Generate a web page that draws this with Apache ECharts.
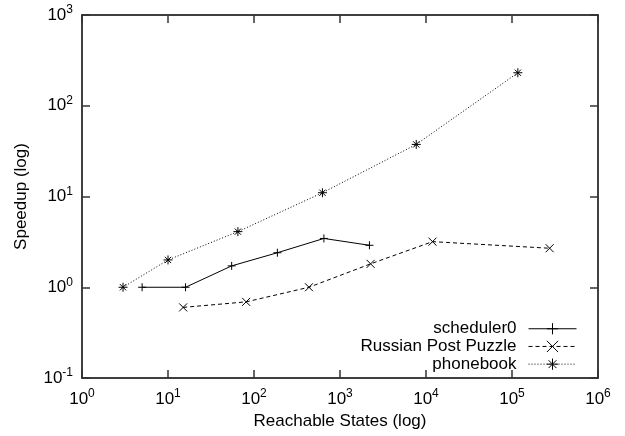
<!DOCTYPE html>
<html>
<head>
<meta charset="utf-8">
<script src="https://cdn.jsdelivr.net/npm/echarts@6/dist/echarts.min.js"></script>
<style>
  html, body { margin: 0; padding: 0; background: #fff; }
  #chart { width: 625px; height: 436px; }
</style>
</head>
<body>
<div id="chart"></div>
<script>
// reachable states (x) and speedup (y)
var schedX = [5, 16, 55, 187, 650, 2200];
var schedY = [1.0, 1.0, 1.72, 2.4, 3.45, 2.9];
var russianX = [15, 81, 436, 2270, 11900, 274000];
var russianY = [0.6, 0.69, 1.0, 1.81, 3.18, 2.69];
var phoneX = [3, 10, 65, 625, 7700, 117000];
var phoneY = [1.0, 2.0, 4.1, 11, 37.5, 231];

var seriesNames = ['scheduler0', 'Russian Post Puzzle', 'phonebook'];

function pairs(xs, ys) {
    return xs.map(function(x, i) { return [x, ys[i]]; });
}

function powLabel(v) {
    var e = Math.round(Math.log(v) / Math.LN10);
    return '{b|10}{e|' + e + '}';
}

var labelRich = {
    b: { fontSize: 17, fontFamily: 'Liberation Sans', color: '#000', lineHeight: 22 },
    e: { fontSize: 12, fontFamily: 'Liberation Sans', color: '#000', verticalAlign: 'top', lineHeight: 12 }
};

var frameLine = { show: true, lineStyle: { color: '#000', width: 1.5 } };
var innerTick = { show: true, inside: true, length: 8, lineStyle: { color: '#333', width: 1.5 } };

var chart = echarts.init(document.getElementById('chart'));

var option = {
    animation: false,
    backgroundColor: '#fff',
    textStyle: { fontFamily: 'Liberation Sans', color: '#000' },
    grid: { left: 82, right: 27, top: 15, bottom: 58 },
    legend: {
        orient: 'vertical',
        right: 43,
        bottom: 58,
        align: 'right',
        itemWidth: 48,
        itemHeight: 14,
        itemGap: 0,
        data: seriesNames,
        lineStyle: { width: 1 },
        itemStyle: { borderWidth: 1 },
        textStyle: { fontSize: 17, color: '#000', lineHeight: 17.7, padding: [0, 7, 0, 0] }
    },
    xAxis: [{
        type: 'log',
        logBase: 10,
        min: 1,
        max: 1000000,
        name: 'Reachable States (log)',
        nameLocation: 'middle',
        nameGap: 35,
        nameTextStyle: { fontSize: 17, color: '#000' },
        axisLine: frameLine,
        axisTick: innerTick,
        minorTick: { show: false },
        splitLine: { show: false },
        axisLabel: { formatter: powLabel, rich: labelRich, margin: 10 }
    }, {
        type: 'log',
        logBase: 10,
        min: 1,
        max: 1000000,
        position: 'top',
        axisLine: frameLine,
        axisTick: innerTick,
        splitLine: { show: false },
        axisLabel: { show: false }
    }],
    yAxis: [{
        type: 'log',
        logBase: 10,
        min: 0.1,
        max: 1000,
        name: 'Speedup (log)',
        nameLocation: 'middle',
        nameGap: 52,
        nameRotate: 90,
        nameTextStyle: { fontSize: 17, color: '#000' },
        axisLine: frameLine,
        axisTick: innerTick,
        splitLine: { show: false },
        axisLabel: { formatter: powLabel, rich: labelRich, margin: 9 }
    }, {
        type: 'log',
        logBase: 10,
        min: 0.1,
        max: 1000,
        position: 'right',
        axisLine: frameLine,
        axisTick: innerTick,
        splitLine: { show: false },
        axisLabel: { show: false }
    }],
    series: [{
        name: seriesNames[0],
        type: 'line',
        data: pairs(schedX, schedY),
        symbol: 'path://M0,5L10,5M5,0L5,10',
        symbolSize: 8,
        itemStyle: { color: '#000', borderColor: '#000', borderWidth: 1 },
        lineStyle: { color: '#000', width: 1, type: 'solid' }
    }, {
        name: seriesNames[1],
        type: 'line',
        data: pairs(russianX, russianY),
        symbol: 'path://M0,0L10,10M10,0L0,10',
        symbolSize: 8,
        itemStyle: { color: '#000', borderColor: '#000', borderWidth: 1 },
        lineStyle: { color: '#000', width: 1, type: [4, 3] }
    }, {
        name: seriesNames[2],
        type: 'line',
        data: pairs(phoneX, phoneY),
        symbol: 'path://M0,5L10,5M5,0L5,10M1.5,1.5L8.5,8.5M8.5,1.5L1.5,8.5',
        symbolSize: 9,
        itemStyle: { color: '#000', borderColor: '#000', borderWidth: 1 },
        lineStyle: { color: '#000', width: 1, type: [1, 2] }
    }]
};

chart.setOption(option);
</script>
</body>
</html>
